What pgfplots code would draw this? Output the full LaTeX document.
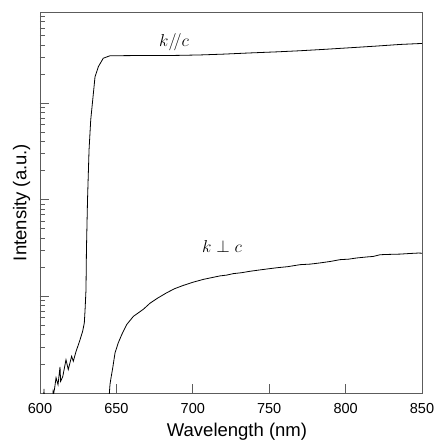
\documentclass[border=0pt]{standalone}
\usepackage{fontspec}
\setmainfont{Liberation Sans}
\usepackage{pgfplots}
\pgfplotsset{compat=1.18}
\definecolor{axgray}{rgb}{0.36,0.36,0.36}
\begin{document}
\begin{tikzpicture}
\begin{axis}[
  name=main,
  scale only axis,
  width=382pt, height=381pt,
  xmin=600, xmax=850,
  ymode=log, ymin=1, ymax=8790,
  xtick={600,650,700,750,800,850},
  xtick pos=bottom, ytick pos=left,
  tick align=inside,
  yticklabel style={text=white},
  major tick length=9pt,
  minor tick length=5pt,
  tick style={axgray, line width=0.8pt},
  axis line style={axgray, line width=0.9pt},
  /pgf/number format/assume math mode=true,
  xticklabel style={font=\fontsize{14.5}{15}\selectfont, yshift=-7pt},
  xlabel={Wavelength (nm)},
  xlabel style={font=\fontsize{18.5}{19}\selectfont, yshift=-2pt, xshift=6pt},
  ylabel={Intensity (a.u.)},
  ylabel style={font=\fontsize{18.5}{19}\selectfont, yshift=-15pt},
  clip=true,
]
\addplot[black, line width=0.8pt] coordinates {
(600,0.8) (602.4,0.8) (602.6,1.1) (602.9,0.8) (608.3,0.8) (608.6,1.05) (609.0,1.0)
(609.5,1.1) (610.5,1.44) (611.8,1.22) (613.1,1.86) (613.5,1.32) (614.9,1.48)
(617.0,2.21) (618.5,1.75) (620.7,2.40) (621.8,2.13) (623.6,2.70) (624.4,2.93)
(626.2,3.56) (627.9,4.35) (629.0,5.31) (629.5,7.28) (630.1,11.7) (630.4,30.4)
(631.1,100) (632.1,329) (633.2,671) (634.5,1081) (636.0,1871) (638.2,2390)
(641.4,2920) (645.8,3098) (660,3110) (672.0,3112) (690,3125) (704.7,3158)
(720,3220) (737.4,3313) (755,3400) (770.2,3491) (785,3600) (802.9,3749)
(820,3900) (835.6,4056) (850,4154)
};
\addplot[black, line width=0.8pt] coordinates {
(645.3,0.95) (645.8,1.22) (646.3,1.38) (647.6,1.82) (649.1,2.60) (651.2,3.30)
(653.5,4.02) (656.7,5.10) (661.1,6.21) (667.6,7.35) (672.0,8.5) (677,9.6)
(682.9,10.9) (688,12.0) (693.8,13.0) (700,14.0) (706.9,15.0) (712,15.6)
(717.8,16.3) (722,16.6) (726.5,17.2) (732,17.6) (737.4,18.2) (745,18.9)
(755,19.8) (762,20.3) (770.2,21.3) (777,21.6) (783.2,22.2) (790,23.0)
(796.3,24.0) (802,24.3) (807.3,25.0) (813.8,25.6) (818,25.9) (822.5,27.0)
(828,27.2) (835.6,27.4) (842,27.8) (847.6,28.1) (850,28.0)
};
\node at (axis cs:687.7,4305) {\fontsize{19}{20}\selectfont $k/\!/c$};
\node at (axis cs:719.1,32.9) {\fontsize{19}{20}\selectfont $k\perp c$};
\end{axis}
\pgfresetboundingbox
\path (main.south west) ++(-40pt,-49pt) rectangle ++(435pt,442pt);
\end{tikzpicture}
\end{document}
